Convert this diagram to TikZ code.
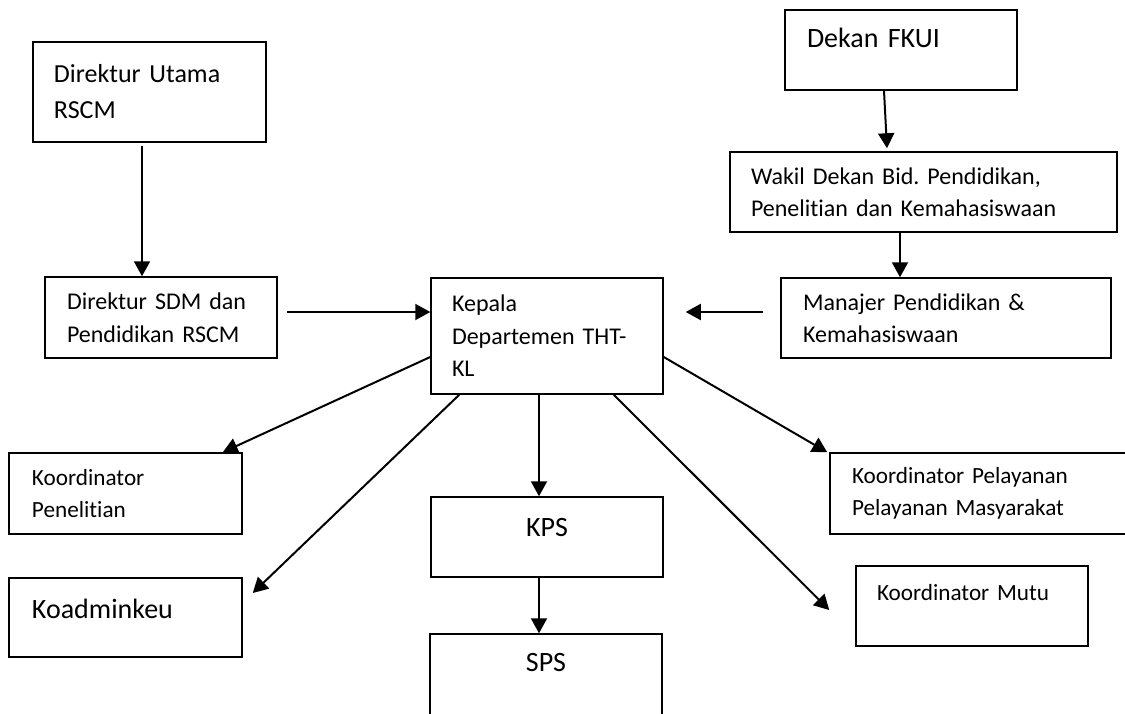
\documentclass[tikz,border=0pt]{standalone}
\usepackage{fontspec}
\setmainfont{Carlito}[Ligatures=NoCommon]
\usetikzlibrary{arrows.meta}
\frenchspacing

\begin{document}
\begin{tikzpicture}
[x=0.5pt,y=-0.5pt]
\tikzstyle{unit box}=[draw,line width=0.75pt,inner ysep=0pt,align=left,font=\fontsize{12}{16.25}\selectfont]
\tikzstyle{small text}=[font=\fontsize{11.6}{16}\selectfont]
\tikzstyle{big text}=[font=\fontsize{14}{18}\selectfont]
\tikzstyle{line arrow}=[line width=1pt,-{Triangle[length=7.5pt,width=8pt]}]

\useasboundingbox (0,0) rectangle (1125,713);

\node(dirut)[unit box,text width=95.5pt,inner xsep=10.5pt,minimum height=50pt,font=\fontsize{13}{18}\selectfont]at(149.5,92){Direktur Utama\\RSCM};
\node(dirsdm)[unit box,text width=94pt,inner xsep=11pt,minimum height=40.5pt]at(161,317.5){Direktur SDM dan\\Pendidikan RSCM};
\node(kepala)[unit box,text width=95pt,inner xsep=10.5pt,minimum height=58pt]at(547,336){Kepala\\Departemen THT-\\KL};
\node(dekan)[unit box,big text,text width=94pt,inner xsep=11pt,minimum height=40pt,text depth=11.8pt]at(901,50){Dekan FKUI};
\node(wakil)[unit box,text width=172.5pt,inner xsep=10.5pt,minimum height=40pt]at(923.5,192){Wakil Dekan Bid. Pendidikan,\\Penelitian dan Kemahasiswaan};
\node(manajer)[unit box,text width=143pt,inner xsep=11pt,minimum height=40pt]at(946,318){Manajer Pendidikan \&\\Kemahasiswaan};
\node(kpen)[unit box,small text,text width=93.5pt,inner xsep=11.5pt,minimum height=40.5pt]at(125.5,493.5){Koordinator\\Penelitian};
\node(koadm)[unit box,big text,text width=93.5pt,inner xsep=11.5pt,minimum height=39.5pt,text depth=8.3pt]at(125.5,617.5){Koadminkeu};
\node(kps)[unit box,big text,align=center,text width=94pt,inner xsep=11pt,minimum height=40pt,text depth=9.8pt]at(547,537){KPS};
\node(sps)[unit box,big text,align=center,text width=94pt,inner xsep=11pt,minimum height=45pt,text depth=16.25pt]at(546,679){SPS};
\node(kpel)[unit box,small text,text width=133pt,inner xsep=11pt,minimum height=40.5pt]at(985,493.5){Koordinator Pelayanan\\Pelayanan Masyarakat};
\node(kmutu)[unit box,small text,text width=95pt,inner xsep=10.5pt,minimum height=40pt,text depth=13.6pt]at(972,606){Koordinator Mutu};

\draw[line arrow]([xshift=-3.75pt,yshift=-1.5pt]dirut.south)--([xshift=-9.5pt]dirsdm.north);
\draw[line arrow]([xshift=4.5pt,yshift=2.75pt]dirsdm.east)--([yshift=12pt]kepala.west);
\draw[line arrow]([xshift=-8.5pt,yshift=3pt]manajer.west)--([xshift=11pt,yshift=12pt]kepala.east);
\draw[line arrow]([xshift=-8.5pt]dekan.south)--([xshift=-18.25pt,yshift=1.5pt]wakil.north);
\draw[line arrow]([xshift=-11.75pt]wakil.south)--([xshift=-23pt]manajer.north);
\draw[line arrow]([xshift=-4pt]kepala.south)--([xshift=-4pt]kps.north);
\draw[line arrow]([xshift=-4pt]kps.south)--([xshift=-3.5pt]sps.north);
\draw[line arrow]([yshift=-10.5pt]kepala.west)--([xshift=-10pt]kpen.north east);
\draw[line arrow]([xshift=14.5pt]kepala.south west)--([xshift=5pt,yshift=12.25pt]koadm.east);
\draw[line arrow]([xshift=-25pt]kepala.south east)--([xshift=-13pt,yshift=-2pt]kmutu.west);
\draw[line arrow]([yshift=-10.5pt]kepala.east)--([xshift=-1pt]kpel.north west);
\end{tikzpicture}
\end{document}
